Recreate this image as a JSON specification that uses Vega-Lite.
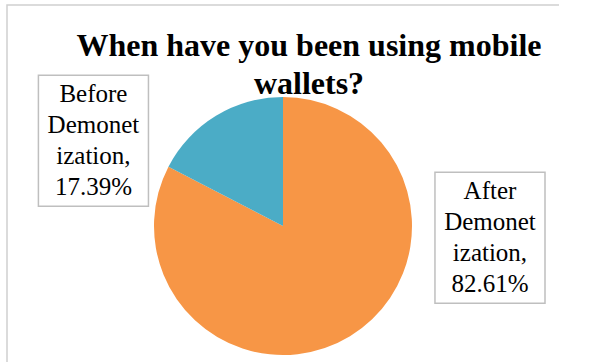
{
  "$schema": "https://vega.github.io/schema/vega-lite/v6.json",
  "width": 605,
  "height": 362,
  "autosize": {"type": "fit", "contains": "padding"},
  "padding": {"left": 7, "top": 5, "right": 46, "bottom": -85},
  "background": "white",
  "title": {
    "text": ["When have you been using mobile", "wallets?"],
    "anchor": "middle",
    "font": "Liberation Serif",
    "fontSize": 32,
    "fontWeight": "bold",
    "color": "black",
    "lineHeight": 38,
    "offset": 0,
    "dx": 26,
    "dy": 96,
    "baseline": "top"
  },
  "config": {
    "view": {"stroke": "#d0d0d0", "strokeWidth": 1.5, "strokeDash": [552, 994, 442]}
  },
  "data": {
    "values": [
      {"category": "After Demonetization", "percent": 82.61, "label": "After\nDemonet\nization,\n82.61%"},
      {"category": "Before Demonetization", "percent": 17.39, "label": "Before\nDemonet\nization,\n17.39%"}
    ]
  },
  "layer": [
    {
      "mark": {"type": "arc", "outerRadius": 129},
      "encoding": {
        "theta": {"field": "percent", "type": "quantitative", "stack": true},
        "color": {
          "field": "category",
          "type": "nominal",
          "scale": {"domain": ["After Demonetization", "Before Demonetization"], "range": ["#F79646", "#4BACC6"]},
          "legend": null
        }
      }
    },
    {
      "mark": {
        "type": "point",
        "shape": "M-0.84,-1L0.84,-1L0.84,1L-0.84,1Z",
        "size": 17161,
        "filled": true,
        "fill": "white",
        "stroke": "#bfbfbf",
        "strokeWidth": 1.5,
        "opacity": 1
      },
      "encoding": {
        "x": {"field": "category", "type": "nominal", "axis": null,
              "scale": {"type": "point", "domain": ["Before Demonetization", "After Demonetization"], "padding": 0.196, "align": 0.556}},
        "y": {"field": "category", "type": "nominal", "axis": null,
              "scale": {"type": "point", "domain": ["Before Demonetization", "After Demonetization", "_a", "_b"], "padding": 0.778, "align": 0.9}}
      }
    },
    {
      "mark": {
        "type": "text",
        "font": "Liberation Serif",
        "fontSize": 25,
        "lineHeight": 31,
        "lineBreak": "\n",
        "align": "center",
        "baseline": "middle",
        "dy": -46.5,
        "color": "black"
      },
      "encoding": {
        "x": {"field": "category", "type": "nominal", "axis": null},
        "y": {"field": "category", "type": "nominal", "axis": null},
        "text": {"field": "label", "type": "nominal"}
      }
    }
  ]
}
